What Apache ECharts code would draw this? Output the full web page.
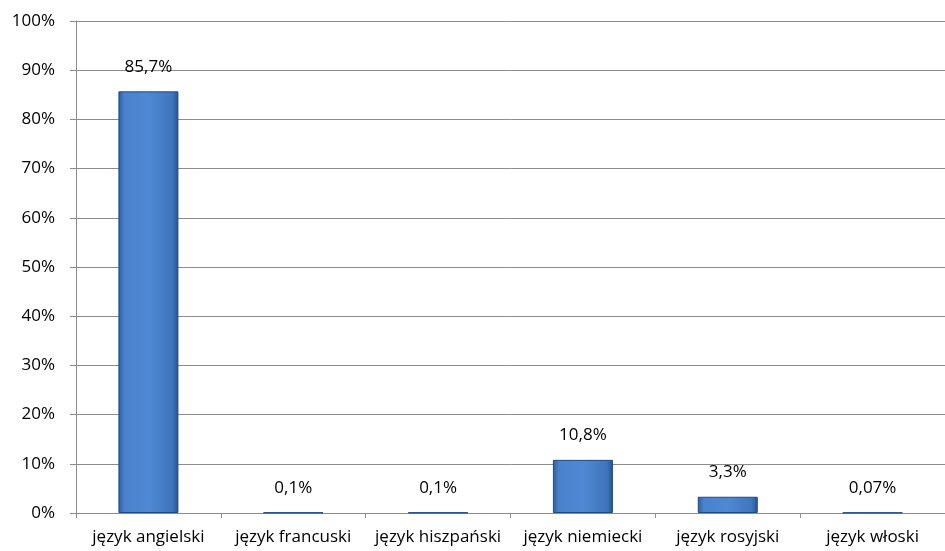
<!DOCTYPE html>
<html><head><meta charset="utf-8">
<script src="https://cdn.jsdelivr.net/npm/echarts@6/dist/echarts.min.js"></script>
<style>html,body{margin:0;padding:0;background:#fff}#c{width:945px;height:551px}</style>
</head><body><div id="c"></div>
<script>
const categories = ['język angielski','język francuski','język hiszpański','język niemiecki','język rosyjski','język włoski'];
const values = [85.7, 0.1, 0.1, 10.8, 3.3, 0.07];
const valueLabels = ['85,7%','0,1%','0,1%','10,8%','3,3%','0,07%'];
const FONT = 'Open Sans';
const chart = echarts.init(document.getElementById('c'));
chart.setOption({
  animation:false,
  grid:{left:76,right:-13,top:21,bottom:38},
  xAxis:{type:'category',data:categories,
    axisLine:{lineStyle:{color:'#8c8c8c',width:1}},
    axisTick:{show:true,alignWithLabel:false,length:5,lineStyle:{color:'#8c8c8c'}},
    axisLabel:{color:'#000',fontFamily:FONT,fontSize:17,margin:16,interval:0}},
  yAxis:{type:'value',min:0,max:100,interval:10,
    axisLine:{show:true,lineStyle:{color:'#8c8c8c'}},
    axisTick:{show:true,length:6,lineStyle:{color:'#8c8c8c'}},
    splitLine:{lineStyle:{color:'#8c8c8c',width:1}},
    axisLabel:{color:'#000',fontFamily:FONT,fontSize:17,margin:21,formatter:v=>v+'%'}},
  series:[{type:'bar',data:values,barWidth:60,
    itemStyle:{borderColor:'#1f4a85',borderWidth:1,
      color:new echarts.graphic.LinearGradient(0,0,1,0,[
        {offset:0,color:'#2d5d9f'},{offset:0.1,color:'#4a82cc'},
        {offset:0.5,color:'#4f88d3'},{offset:0.9,color:'#3f75bc'},{offset:1,color:'#24528f'}])},
    label:{show:true,position:'top',distance:16,color:'#000',fontFamily:FONT,fontSize:17,
      formatter:p=>valueLabels[p.dataIndex]}}]
});
</script></body></html>
